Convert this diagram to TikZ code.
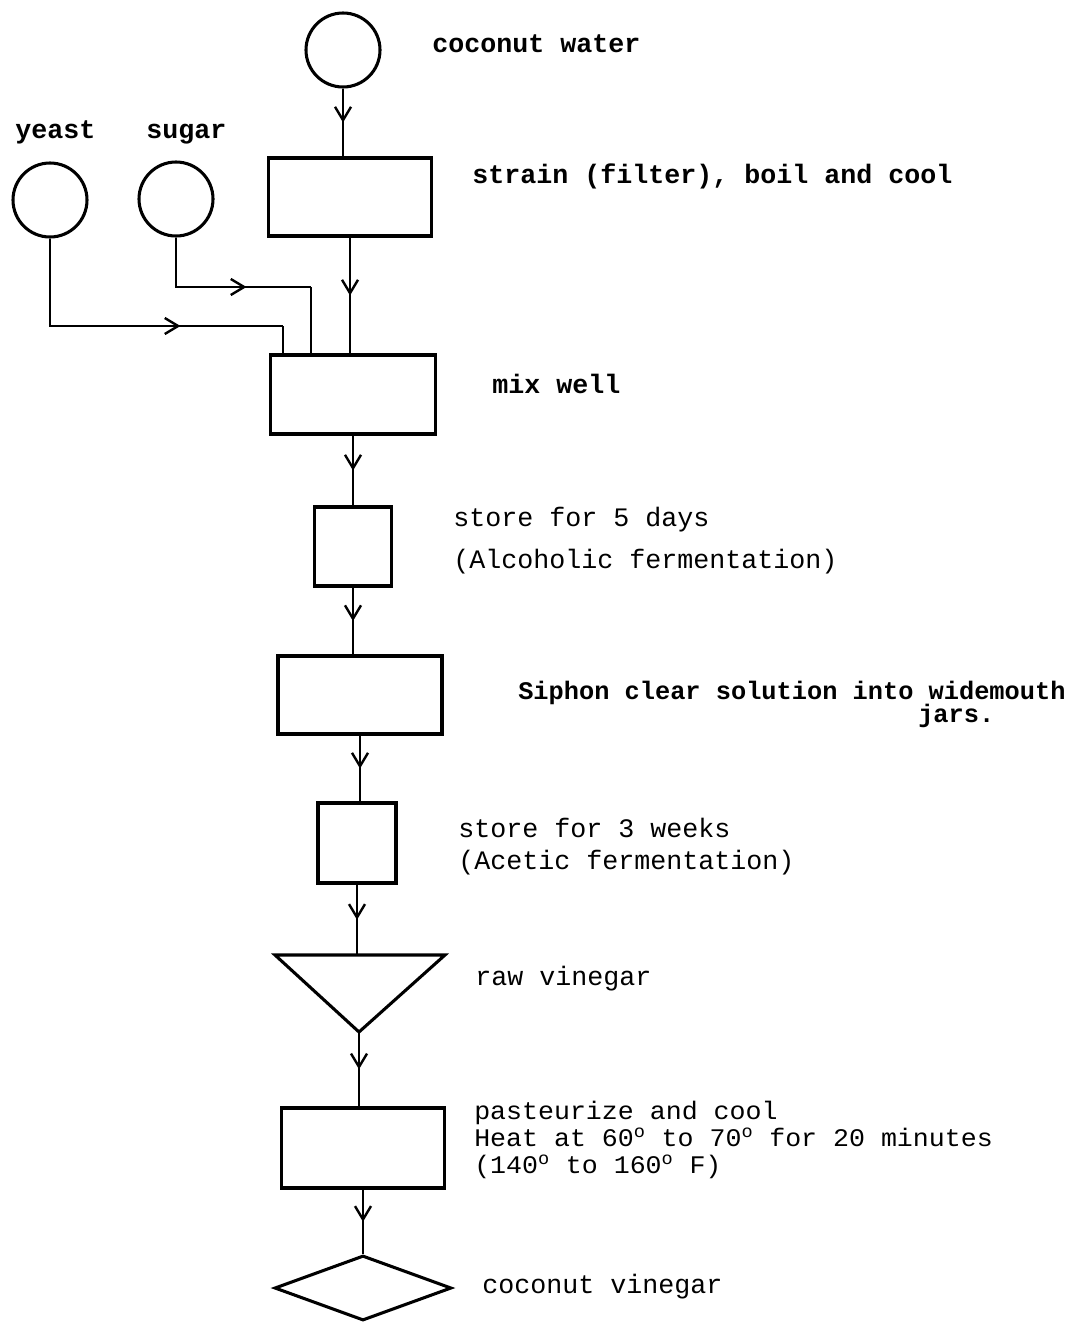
\documentclass[tikz,border=0pt]{standalone}
\usepackage{fontspec}
\newfontfamily\tw{Liberation Mono}
\newfontfamily\twn[FakeStretch=1.05]{Liberation Mono}
\usetikzlibrary{arrows.meta,decorations.markings,shapes.geometric}
\newcommand\dg{\smash{\textsuperscript{o}}}
\tikzset{
  boxnode/.style={draw,line width=2.3pt,rectangle,inner sep=0pt},
  srcnode/.style={draw,line width=2.3pt,circle,inner sep=0pt,minimum size=55.5pt},
  lbl/.style={anchor=base west,inner sep=0pt,font=\tw\fontsize{20}{24}\selectfont},
  blbl/.style={lbl,font=\tw\bfseries\fontsize{20}{24}\selectfont},
  slbl/.style={lbl,font=\twn\fontsize{19}{22}\selectfont},
  flow/.style={line width=2.1pt,postaction={decorate},
    decoration={markings,mark=at position #1 with {\arrow{Straight Barb[length=10pt,width=12pt,line width=1.8pt]}}}},
  flow/.default=0.5,
  plain/.style={line width=2.1pt}
}
\begin{document}
\begin{tikzpicture}[x=0.75pt,y=-0.75pt]
\useasboundingbox (0,0) rectangle (1068,1324);
% sources
\node[srcnode] (cw) at (343,50) {};
\node[srcnode] (yeast) at (50,200) {};
\node[srcnode] (sugar) at (176,199) {};
% process boxes
\node[boxnode,minimum width=122.25pt,minimum height=58.5pt] (strain) at (350,197) {};
\node[boxnode,minimum width=123.75pt,minimum height=59.25pt] (mix) at (353,394.5) {};
\node[boxnode,minimum width=57.75pt,minimum height=59.25pt] (store5) at (353,546.5) {};
\node[boxnode,minimum width=123pt,minimum height=58.5pt] (siphon) at (360,695) {};
\node[boxnode,minimum width=58.5pt,minimum height=60pt] (store3) at (357,843) {};
\node[boxnode,minimum width=122.25pt,minimum height=60pt] (past) at (363,1148) {};
\node[draw,line width=2.3pt,diamond,aspect=2.7,inner sep=0pt,minimum width=132.75pt,minimum height=48.75pt] (prod) at (363,1288) {};
% raw vinegar triangle
\coordinate (tritop) at (359,955);
\coordinate (triapex) at (359,1032);
\draw[line width=2.3pt,line join=miter] (275,955) -- (445,955) -- (triapex) -- cycle;
% main flow
\draw[flow] (cw.south) -- (cw.south |- strain.north);
\draw[flow] (strain.south) -- (strain.south |- mix.north);
\draw[flow] (mix.south) -- (mix.south |- store5.north);
\draw[flow] (store5.south) -- (store5.south |- siphon.north);
\draw[flow] (siphon.south) -- (siphon.south |- store3.north);
\draw[flow] (store3.south) -- (store3.south |- tritop);
\draw[flow] (triapex) -- (triapex |- past.north);
\draw[flow] (past.south) -- (past.south |- prod.north);
% yeast and sugar feeds
\coordinate (yk) at (283,326);
\coordinate (sk) at (311,287);
\draw[flow=0.68] (yeast.south) |- (yk);
\draw[plain] (yk) -- (yk |- mix.north);
\draw[flow=0.65] (sugar.south) |- (sk);
\draw[plain] (sk) -- (sk |- mix.north);
% labels
\node[blbl] (tcw) at (432,52) {coconut water};
\node[blbl] (tyeast) at (15,138) {yeast};
\node[blbl] (tsugar) at (146,138) {sugar};
\node[blbl] (tstrain) at (472,183) {strain (filter), boil and cool};
\node[blbl] (tmix) at (492,393) {mix well};
\node[lbl] (ts5a) at (453,526) {store for 5 days};
\node[lbl] (ts5b) at (453,568) {(Alcoholic fermentation)};
\node[blbl,font=\tw\bfseries\fontsize{19}{24}\selectfont] (tsiph) at (518,699) {Siphon clear solution into widemouth};
\node[blbl,font=\tw\bfseries\fontsize{19}{24}\selectfont] (tjars) at (918,722) {jars.};
\node[lbl] (ts3a) at (458,837) {store for 3 weeks};
\node[lbl] (ts3b) at (458,869) {(Acetic fermentation)};
\node[lbl] (traw) at (475,985) {raw vinegar};
\node[slbl] (tpa) at (474,1119) {pasteurize and cool};
\node[slbl] (tpb) at (474,1146) {Heat at 60\dg{} to 70\dg{} for 20 minutes};
\node[slbl] (tpc) at (474,1173) {(140\dg{} to 160\dg{} F)};
\node[lbl] (tprod) at (482,1293) {coconut vinegar};
\end{tikzpicture}
\end{document}
